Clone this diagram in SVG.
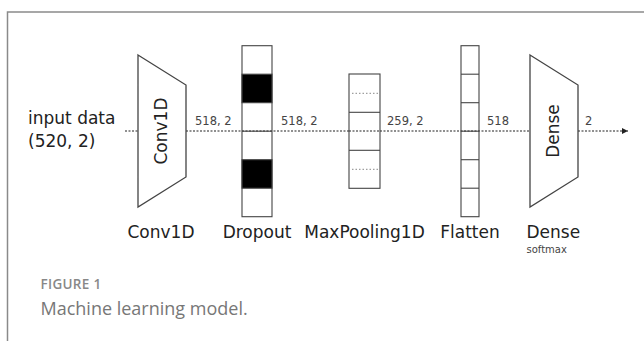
<svg xmlns="http://www.w3.org/2000/svg" width="644" height="341" viewBox="0 0 644 341">
<defs>
<marker id="arr" markerWidth="8" markerHeight="8" refX="6" refY="3" orient="auto" markerUnits="userSpaceOnUse">
<path d="M0,0 L6,3 L0,6 Z" fill="#222"/>
</marker>
<style>
.lbl{font-family:"DejaVu Sans",Verdana,sans-serif;font-size:17px;fill:#222}
.dim{font-family:"DejaVu Sans",Verdana,sans-serif;font-size:11.5px;fill:#444}
.shape{fill:#fff;stroke:#444;stroke-width:1.3}
.cell{fill:none;stroke:#444;stroke-width:1.1}
.blk{fill:#000;stroke:#444;stroke-width:1.1}
.flow{stroke:#222;stroke-width:1.2;stroke-dasharray:2 1.5;fill:none}
.inner{stroke:#888;stroke-width:1;stroke-dasharray:1.5 2;fill:none}
.cap1{font-family:"Open Sans",sans-serif;font-weight:600;font-size:13.5px;fill:#888;letter-spacing:0.3px}
.cap2{font-family:"Open Sans",sans-serif;font-size:18px;fill:#777}
</style>
</defs>
<rect width="644" height="341" fill="#fff"/>
<path d="M7.5,341 V12 H644" fill="none" stroke="#8a8a8a" stroke-width="1.5"/>

<g id="connectors">
<line class="flow" x1="125" y1="131" x2="138" y2="131"/>
<line class="flow" x1="186" y1="131" x2="349" y2="131"/>
<line class="flow" x1="349" y1="131" x2="380" y2="131"/>
<line class="flow" x1="380" y1="131" x2="530" y2="131"/>
<line class="flow" x1="578" y1="131" x2="628" y2="131" marker-end="url(#arr)"/>
<text class="dim" x="195" y="125">518, 2</text>
<text class="dim" x="281" y="125">518, 2</text>
<text class="dim" x="387" y="125">259, 2</text>
<text class="dim" x="487" y="125">518</text>
<text class="dim" x="585" y="125">2</text>
</g>

<g id="input">
<text class="lbl" x="28" y="124">input data</text>
<text class="lbl" x="28" y="147">(520, 2)</text>
</g>

<g id="conv1d">
<polygon class="shape" points="138,55 186,85 186,177 138,207"/>
<text class="lbl" transform="translate(167,131) rotate(-90)" text-anchor="middle">Conv1D</text>
<text class="lbl" x="161" y="238" text-anchor="middle">Conv1D</text>
</g>

<g id="dropout">
<rect class="cell" x="242" y="45.7" width="30" height="171"/>
<rect class="blk" x="242" y="74.2" width="30" height="28.5"/>
<rect class="blk" x="242" y="159.7" width="30" height="28.5"/>
<line class="cell" x1="242" y1="131.2" x2="272" y2="131.2"/>
<text class="lbl" x="257" y="238" text-anchor="middle">Dropout</text>
</g>

<g id="maxpooling">
<rect class="cell" x="349" y="74" width="31" height="114.3"/>
<line class="cell" x1="349" y1="112.3" x2="380" y2="112.3"/>
<line class="cell" x1="349" y1="150.3" x2="380" y2="150.3"/>
<line class="inner" x1="352" y1="93.3" x2="378" y2="93.3"/>
<line class="inner" x1="352" y1="169.3" x2="378" y2="169.3"/>
<text class="lbl" x="364.5" y="238" text-anchor="middle">MaxPooling1D</text>
</g>

<g id="flatten">
<rect class="cell" x="461" y="45.7" width="18" height="171"/>
<line class="cell" x1="461" y1="74.2" x2="479" y2="74.2"/>
<line class="cell" x1="461" y1="102.7" x2="479" y2="102.7"/>
<line class="cell" x1="461" y1="131.2" x2="479" y2="131.2"/>
<line class="cell" x1="461" y1="159.7" x2="479" y2="159.7"/>
<line class="cell" x1="461" y1="188.2" x2="479" y2="188.2"/>
<text class="lbl" x="470" y="238" text-anchor="middle">Flatten</text>
</g>

<g id="dense">
<polygon class="shape" points="530,55 578,85 578,177 530,207"/>
<text class="lbl" transform="translate(558.5,131) rotate(-90)" text-anchor="middle">Dense</text>
<text class="lbl" x="526.5" y="238">Dense</text>
<text class="dim" x="526.5" y="252.5" style="font-size:10px">softmax</text>
</g>

<text class="cap1" x="40.5" y="289.3">FIGURE 1</text>
<text class="cap2" x="40.5" y="315">Machine learning model.</text>
</svg>
